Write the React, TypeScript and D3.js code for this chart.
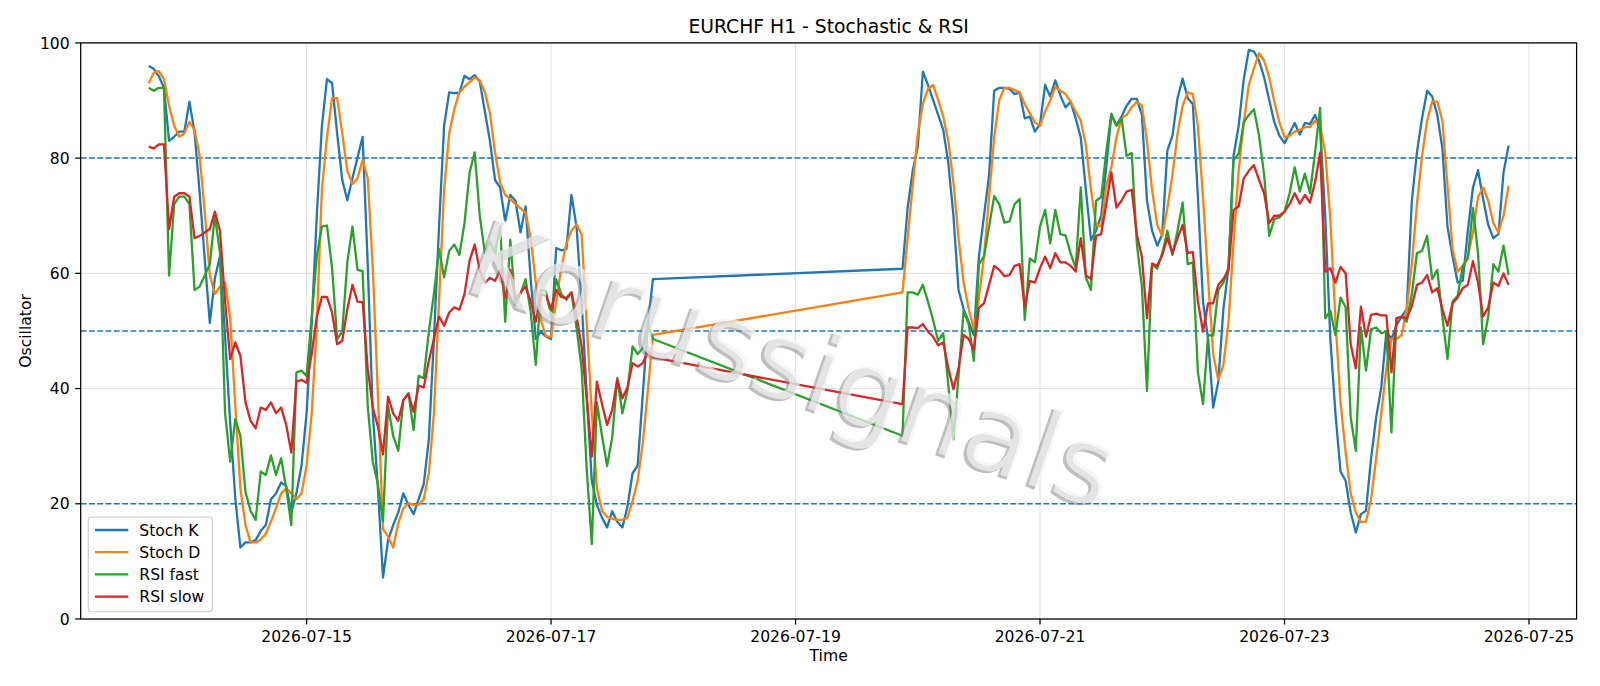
import { useEffect, useRef } from 'react'
import * as d3 from 'd3'

// hourly bars, two trading sessions (weekend gap between them)
const sessionStarts = ['2026-07-13T17:00:00Z', '2026-07-19T21:00:00Z']
const sessionLengths = [100, 120]

const stochK = [
  96.0, 95.5, 94.2, 92.2, 83.0, 83.7, 84.6, 84.6, 89.8, 84.5,
  74.0, 62.5, 51.4, 59.2, 63.0, 49.0, 34.0, 21.0, 12.4, 13.3,
  13.3, 13.7, 15.3, 16.3, 20.8, 21.8, 23.7, 23.1, 18.5, 21.8,
  26.6, 35.7, 51.2, 70.0, 85.5, 93.7, 93.0, 84.3, 76.2, 72.7,
  76.5, 80.1, 83.7, 61.6, 35.7, 22.7, 7.2, 13.7, 16.3, 18.5,
  21.8, 19.8, 18.2, 20.8, 23.4, 31.2, 48.6, 68.0, 85.6, 91.4,
  91.3, 91.3, 94.3, 93.7, 94.4, 93.3, 88.1, 83.0, 76.2, 74.9,
  69.0, 73.6, 72.6, 67.1, 71.6, 59.0, 48.6, 49.9, 49.0, 48.6,
  64.4, 64.0, 64.2, 73.6, 68.1, 55.1, 38.9, 24.0, 19.8, 17.6,
  15.9, 18.7, 16.9, 15.9, 19.5, 25.3, 26.6, 38.9, 51.2, 59.0,
  // second session
  60.8, 71.3, 77.8, 82.0, 95.0, 92.7, 90.1, 87.5, 84.9, 79.1,
  70.0, 57.1, 53.8, 51.6, 49.3, 62.9, 70.0, 77.1, 91.7, 92.2,
  92.2, 92.0, 91.1, 91.4, 86.9, 87.2, 84.6, 85.9, 92.7, 90.7,
  93.5, 90.9, 88.8, 89.8, 86.9, 83.6, 74.5, 65.8, 67.4, 70.0,
  78.4, 87.5, 85.7, 87.2, 89.1, 90.3, 90.3, 87.5, 72.6, 67.4,
  64.8, 66.8, 81.3, 83.9, 90.4, 93.8, 90.4, 89.4, 73.2, 55.1,
  48.6, 36.7, 41.2, 53.8, 60.9, 80.4, 85.6, 93.7, 98.8, 98.5,
  96.9, 94.0, 90.1, 86.2, 83.9, 82.6, 84.3, 86.1, 84.1, 86.1,
  85.9, 87.5, 85.2, 70.0, 48.6, 35.7, 25.6, 24.0, 18.5, 15.0,
  18.2, 18.8, 27.9, 35.0, 40.2, 49.9, 48.6, 51.0, 52.5, 53.8,
  72.6, 81.0, 86.9, 91.7, 90.7, 87.5, 81.7, 68.1, 62.9, 58.4,
  58.7, 67.4, 74.9, 77.9, 72.9, 68.4, 66.1, 66.8, 77.5, 82.2,
]

const stochD = [
  93.0, 94.8, 95.1, 93.7, 89.1, 85.6, 83.7, 84.3, 86.3, 84.9,
  80.4, 70.7, 59.7, 56.4, 57.7, 58.4, 52.2, 37.0, 22.7, 16.3,
  13.3, 13.3, 13.8, 14.8, 16.9, 19.2, 21.8, 22.7, 21.8, 20.8,
  21.8, 26.6, 35.7, 51.0, 74.5, 83.6, 90.4, 90.4, 84.3, 77.8,
  75.5, 76.5, 79.7, 76.5, 60.9, 38.9, 15.6, 14.3, 12.4, 16.6,
  19.2, 20.1, 19.8, 19.8, 20.8, 25.3, 35.7, 55.1, 74.5, 84.3,
  88.5, 91.4, 92.4, 93.2, 94.0, 93.5, 91.5, 87.8, 81.0, 75.8,
  73.6, 72.9, 72.0, 71.3, 70.5, 66.1, 58.4, 51.9, 49.0, 49.0,
  55.1, 60.9, 65.2, 67.4, 68.5, 66.8, 51.2, 35.7, 22.7, 18.8,
  17.7, 17.4, 17.2, 17.2, 17.6, 20.5, 24.0, 30.5, 39.6, 49.3,
  // second session
  56.7, 66.1, 75.2, 84.3, 89.4, 92.0, 92.7, 90.1, 87.2, 83.0,
  75.8, 66.1, 58.4, 53.8, 50.3, 55.7, 62.9, 73.3, 83.6, 90.1,
  92.2, 92.2, 91.8, 91.4, 89.4, 87.8, 86.2, 85.6, 88.1, 90.0,
  92.4, 91.7, 91.1, 89.8, 88.1, 86.5, 82.3, 74.5, 68.4, 68.1,
  75.2, 78.4, 83.6, 86.9, 87.5, 88.8, 89.8, 89.1, 83.0, 74.5,
  68.4, 66.5, 71.3, 77.1, 84.3, 89.1, 91.4, 91.1, 85.6, 73.2,
  59.0, 46.0, 41.5, 44.1, 51.5, 65.5, 77.8, 86.2, 92.7, 95.6,
  98.2, 96.9, 94.0, 89.8, 86.2, 83.6, 83.9, 84.6, 84.9, 85.4,
  85.4, 86.5, 85.6, 81.0, 69.4, 51.9, 37.6, 28.9, 21.8, 18.5,
  16.8, 16.9, 20.8, 27.9, 35.7, 43.5, 48.6, 48.6, 49.3, 53.8,
  61.6, 72.0, 80.4, 86.5, 89.8, 89.8, 86.5, 75.2, 64.2, 60.3,
  61.3, 62.9, 67.1, 73.3, 74.9, 72.6, 68.7, 67.1, 70.0, 75.2,
]

const rsiFast = [
  92.2, 91.7, 92.2, 92.2, 59.6, 72.0, 73.3, 73.3, 72.0, 57.1,
  57.7, 59.6, 61.6, 70.0, 63.5, 35.7, 27.3, 34.7, 31.8, 22.1,
  18.8, 17.2, 25.6, 25.0, 28.4, 25.0, 27.9, 22.7, 16.3, 42.8,
  43.1, 42.2, 52.5, 63.0, 68.1, 68.3, 61.0, 48.6, 49.9, 61.9,
  68.1, 60.6, 60.4, 37.0, 27.3, 23.4, 16.9, 37.0, 31.8, 29.2,
  38.0, 39.2, 32.8, 42.2, 41.8, 49.9, 56.4, 64.2, 59.3, 63.9,
  65.0, 63.2, 68.7, 77.5, 81.0, 70.0, 63.5, 65.5, 63.5, 68.1,
  51.6, 65.8, 54.5, 56.4, 59.0, 53.2, 44.1, 57.1, 56.9, 52.5,
  59.0, 56.4, 55.4, 56.7, 50.6, 43.5, 26.0, 13.0, 37.6, 31.8,
  26.6, 31.5, 41.8, 35.7, 39.6, 47.3, 46.0, 47.0, 51.2, 48.6,
  // second session
  31.8, 56.7, 56.7, 56.3, 58.0, 55.1, 51.9, 48.3, 49.6, 40.5,
  31.2, 42.2, 53.5, 51.2, 44.8, 61.6, 62.9, 68.1, 73.4, 72.0,
  68.8, 69.0, 72.0, 72.9, 51.9, 62.6, 61.9, 68.1, 71.0, 65.2,
  71.0, 66.8, 66.6, 63.5, 60.9, 74.9, 59.3, 57.1, 72.6, 73.2,
  81.0, 87.7, 85.6, 86.9, 80.4, 80.9, 65.2, 57.7, 39.6, 61.6,
  60.8, 63.5, 67.4, 63.2, 67.4, 72.3, 61.6, 61.9, 42.8, 37.3,
  49.3, 49.2, 57.1, 58.4, 61.0, 79.7, 80.7, 86.2, 87.5, 88.5,
  83.9, 77.1, 66.5, 69.4, 69.7, 70.7, 73.9, 78.4, 74.2, 77.3,
  73.9, 81.0, 88.7, 52.2, 53.5, 49.3, 55.8, 54.1, 35.0, 29.2,
  50.6, 43.1, 50.3, 50.6, 49.6, 49.9, 32.4, 52.2, 52.5, 51.6,
  56.4, 63.5, 63.9, 66.5, 59.0, 60.6, 52.5, 45.1, 55.1, 56.1,
  61.3, 62.6, 71.3, 63.5, 47.7, 52.5, 61.6, 60.3, 64.8, 59.7,
]

const rsiSlow = [
  82.0, 81.7, 82.4, 82.4, 67.7, 73.3, 73.9, 73.9, 73.3, 66.1,
  66.5, 67.1, 67.7, 70.7, 67.4, 55.1, 45.1, 48.0, 45.7, 37.6,
  34.4, 33.1, 36.7, 36.3, 37.6, 35.7, 36.7, 33.7, 28.9, 41.2,
  41.5, 41.0, 46.0, 52.5, 55.9, 55.9, 53.2, 47.7, 48.3, 53.8,
  58.0, 55.1, 55.0, 43.5, 36.7, 33.4, 28.6, 38.6, 35.7, 34.4,
  38.0, 39.1, 36.0, 40.5, 40.2, 44.8, 48.6, 52.5, 50.9, 53.2,
  54.1, 53.7, 56.4, 62.2, 65.0, 60.5, 58.4, 59.2, 58.7, 60.6,
  55.7, 60.6, 55.4, 56.7, 57.7, 55.1, 51.6, 56.4, 56.1, 53.8,
  57.1, 55.9, 55.7, 56.7, 52.5, 47.3, 38.3, 28.2, 41.2, 37.3,
  33.7, 36.3, 41.6, 38.3, 40.2, 44.4, 43.8, 44.4, 46.4, 45.4,
  // second session
  37.3, 50.6, 50.6, 50.5, 51.2, 49.9, 49.0, 47.5, 48.0, 43.5,
  39.9, 43.5, 49.3, 48.6, 46.7, 54.0, 54.8, 58.0, 61.3, 60.6,
  59.5, 59.7, 61.3, 61.6, 54.2, 58.7, 58.4, 60.9, 62.9, 60.9,
  63.5, 61.9, 61.9, 61.3, 60.3, 66.1, 59.7, 59.0, 66.5, 66.8,
  72.0, 77.5, 71.4, 72.6, 74.2, 74.5, 66.8, 62.9, 52.2, 61.7,
  61.3, 63.2, 66.1, 63.5, 66.1, 68.4, 63.5, 63.7, 55.1, 49.9,
  54.8, 54.8, 58.0, 59.0, 60.6, 71.0, 71.6, 76.5, 77.8, 78.8,
  76.2, 73.9, 68.7, 70.0, 70.0, 70.7, 72.0, 73.9, 72.1, 73.6,
  72.3, 75.8, 81.0, 60.3, 60.9, 58.4, 61.1, 60.0, 47.7, 43.5,
  54.2, 49.0, 52.8, 53.0, 52.7, 52.7, 42.8, 52.2, 52.5, 52.2,
  54.3, 58.0, 58.4, 59.7, 56.7, 57.4, 53.8, 50.9, 54.8, 55.8,
  57.4, 58.0, 62.1, 58.4, 52.5, 54.1, 58.4, 57.8, 60.0, 58.0,
]

const seriesNames = ['Stoch K', 'Stoch D', 'RSI fast', 'RSI slow']
const seriesColors = ['#1f77b4', '#ff7f0e', '#2ca02c', '#d62728']
const levels = [20, 50, 80]
const yTicks = [0, 20, 40, 60, 80, 100]
const xTickDates = ['2026-07-15', '2026-07-17', '2026-07-19', '2026-07-21', '2026-07-23', '2026-07-25']

const FONT = 'DejaVu Sans, Verdana, sans-serif'

export default function App() {
  const svgRef = useRef<SVGSVGElement>(null)

  useEffect(() => {
    if (!svgRef.current) return
    const svg = d3.select(svgRef.current)
    svg.selectAll('*').remove()

    const width = 1600, height = 686
    const m = { top: 42.9, right: 23.4, bottom: 67, left: 80.7 }
    const x0 = m.left, x1 = width - m.right, y0 = m.top, y1 = height - m.bottom

    const times: Date[] = []
    sessionStarts.forEach((s, k) => {
      const t0 = new Date(s).getTime()
      for (let h = 0; h < sessionLengths[k]; h++) times.push(new Date(t0 + h * 3600e3))
    })
    const [tMin, tMax] = d3.extent(times) as [Date, Date]
    const pad = (tMax.getTime() - tMin.getTime()) * 0.05

    const x = d3.scaleUtc()
      .domain([new Date(tMin.getTime() - pad), new Date(tMax.getTime() + pad)])
      .range([x0, x1])
    const y = d3.scaleLinear().domain([0, 100]).range([y1, y0])

    // grid
    const grid = svg.append('g').attr('stroke', '#b0b0b0').attr('stroke-opacity', 0.35).attr('stroke-width', 1.1)
    const xTicks = xTickDates.map(d => new Date(d + 'T00:00:00Z'))
    xTicks.forEach(t => {
      grid.append('line').attr('x1', x(t)).attr('x2', x(t)).attr('y1', y0).attr('y2', y1)
    })
    yTicks.forEach(v => {
      grid.append('line').attr('x1', x0).attr('x2', x1).attr('y1', y(v)).attr('y2', y(v))
    })

    // reference levels
    levels.forEach(v => {
      svg.append('line')
        .attr('x1', x0).attr('x2', x1).attr('y1', y(v)).attr('y2', y(v))
        .attr('stroke', '#1f77b4').attr('stroke-width', 1.5)
        .attr('stroke-dasharray', '5.8,2.5')
    })

    // series
    const all = [stochK, stochD, rsiFast, rsiSlow]
    const line = d3.line<number>().x((_, i) => x(times[i])).y(d => y(d))
    all.forEach((vals, k) => {
      svg.append('path')
        .datum(vals)
        .attr('fill', 'none')
        .attr('stroke', seriesColors[k])
        .attr('stroke-width', 2.3)
        .attr('stroke-linejoin', 'round')
        .attr('d', line)
    })

    // watermark: pale letters over a grey shadow
    const wm = svg.append('g').attr('transform', 'translate(461,289) rotate(19)')
      .attr('font-family', FONT).attr('font-size', 108)
    wm.append('text').attr('x', -2.5).attr('y', 3).attr('fill', '#808080').attr('fill-opacity', 0.5).text('Korussignals')
    wm.append('text').attr('fill', '#f4f4f4').attr('fill-opacity', 0.7).text('Korussignals')

    // spines
    svg.append('rect')
      .attr('x', x0).attr('y', y0).attr('width', x1 - x0).attr('height', y1 - y0)
      .attr('fill', 'none').attr('stroke', '#000').attr('stroke-width', 1.25)

    // x axis
    const xAxis = svg.append('g').attr('font-family', FONT).attr('font-size', 15.6)
    xTicks.forEach((t, k) => {
      xAxis.append('line').attr('x1', x(t)).attr('x2', x(t)).attr('y1', y1).attr('y2', y1 + 5.5)
        .attr('stroke', '#000').attr('stroke-width', 1.25)
      xAxis.append('text').attr('x', x(t)).attr('y', y1 + 22.6).attr('text-anchor', 'middle')
        .attr('fill', '#000').text(xTickDates[k])
    })

    // y axis
    const yAxis = svg.append('g').attr('font-family', FONT).attr('font-size', 15.6)
    yTicks.forEach(v => {
      yAxis.append('line').attr('x1', x0 - 5.5).attr('x2', x0).attr('y1', y(v)).attr('y2', y(v))
        .attr('stroke', '#000').attr('stroke-width', 1.25)
      yAxis.append('text').attr('x', x0 - 11).attr('y', y(v)).attr('dy', '0.36em')
        .attr('text-anchor', 'end').attr('fill', '#000').text(v)
    })

    // labels
    svg.append('text').attr('x', (x0 + x1) / 2).attr('y', 32.5).attr('text-anchor', 'middle')
      .attr('font-family', FONT).attr('font-size', 18.75).text('EURCHF H1 - Stochastic & RSI')
    svg.append('text').attr('x', (x0 + x1) / 2).attr('y', 661).attr('text-anchor', 'middle')
      .attr('font-family', FONT).attr('font-size', 15.6).text('Time')
    svg.append('text')
      .attr('transform', `translate(25,${(y0 + y1) / 2}) rotate(-90)`)
      .attr('text-anchor', 'middle').attr('dy', '0.36em')
      .attr('font-family', FONT).attr('font-size', 15.6).text('Oscillator')

    // legend
    const lg = svg.append('g').attr('font-family', FONT).attr('font-size', 15.6)
    lg.append('rect').attr('x', 88.3).attr('y', 517).attr('width', 124).attr('height', 94.7)
      .attr('rx', 3).attr('fill', '#fff').attr('fill-opacity', 0.8)
      .attr('stroke', '#cccccc').attr('stroke-width', 1.1)
    seriesNames.forEach((name, k) => {
      const cy = 530 + k * 22.2
      lg.append('line').attr('x1', 95).attr('x2', 128.3).attr('y1', cy).attr('y2', cy)
        .attr('stroke', seriesColors[k]).attr('stroke-width', 2.3)
      lg.append('text').attr('x', 139.3).attr('y', cy).attr('dy', '0.36em').attr('fill', '#000').text(name)
    })
  }, [])

  return (
    <div style={{ position: 'absolute', left: 0, top: 0, background: '#fff' }}>
      <svg ref={svgRef} width={1600} height={686} style={{ display: 'block' }}></svg>
    </div>
  )
}
